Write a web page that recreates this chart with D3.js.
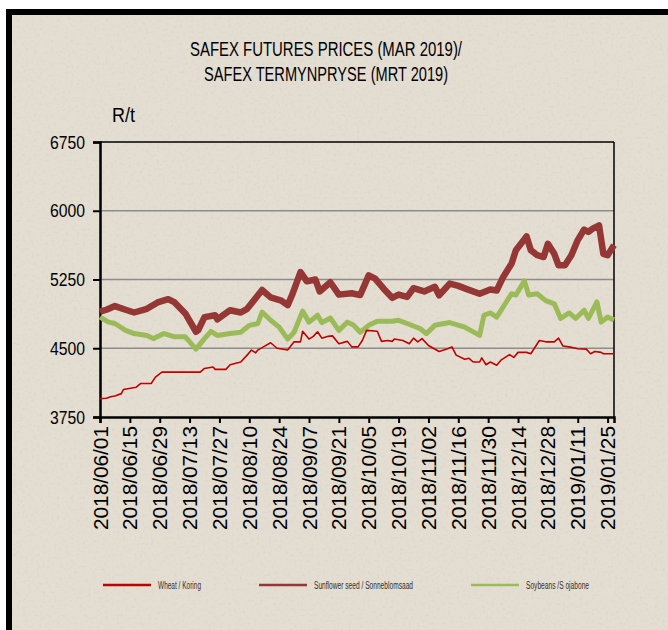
<!DOCTYPE html>
<html>
<head>
<meta charset="utf-8">
<script src="https://cdn.jsdelivr.net/npm/d3@7"></script>
<style>
  html, body { margin: 0; padding: 0; background: #ffffff; }
  svg { display: block; }
</style>
</head>
<body>
<svg id="chart" width="668" height="630"></svg>
<script>
// ---------------- DATA ----------------
const titleLines = ["SAFEX FUTURES PRICES (MAR 2019)/", "SAFEX TERMYNPRYSE (MRT 2019)"];
const yUnit = "R/t";
const yTicks = [3750, 4500, 5250, 6000, 6750];
const xTickLabels = ["2018/06/01","2018/06/15","2018/06/29","2018/07/13","2018/07/27","2018/08/10",
  "2018/08/24","2018/09/07","2018/09/21","2018/10/05","2018/10/19","2018/11/02","2018/11/16",
  "2018/11/30","2018/12/14","2018/12/28","2019/01/11","2019/01/25"];
const xDomain = ["2018-06-01", "2019-01-28"];
const seriesNames = ["Wheat / Koring", "Sunflower  seed / Sonneblomsaad", "Soybeans /S ojabone"];

const wheatDates = ["2018-06-01","2018-06-04","2018-06-06","2018-06-08","2018-06-11","2018-06-12","2018-06-18",
  "2018-06-20","2018-06-25","2018-06-27","2018-06-30","2018-07-06","2018-07-18","2018-07-20","2018-07-24",
  "2018-07-25","2018-07-30","2018-08-01","2018-08-06","2018-08-09","2018-08-11","2018-08-13","2018-08-14",
  "2018-08-17","2018-08-20","2018-08-23","2018-08-28","2018-08-31","2018-09-03","2018-09-04","2018-09-07",
  "2018-09-09","2018-09-11","2018-09-13","2018-09-16","2018-09-18","2018-09-21","2018-09-25","2018-09-27",
  "2018-09-30","2018-10-02","2018-10-04","2018-10-09","2018-10-11","2018-10-14","2018-10-16","2018-10-17",
  "2018-10-21","2018-10-24","2018-10-26","2018-10-28","2018-10-30","2018-11-02","2018-11-07","2018-11-11",
  "2018-11-13","2018-11-15","2018-11-19","2018-11-21","2018-11-23","2018-11-26","2018-11-27","2018-11-29",
  "2018-12-01","2018-12-04","2018-12-06","2018-12-10","2018-12-12","2018-12-14","2018-12-18","2018-12-20",
  "2018-12-24","2018-12-27","2018-12-31","2019-01-02","2019-01-04","2019-01-07","2019-01-09","2019-01-11",
  "2019-01-15","2019-01-17","2019-01-19","2019-01-22","2019-01-23","2019-01-28"];
const wheatPrices = [3950,3955,3970,3980,4005,4050,4075,
  4115,4115,4185,4240,4240,4240,4280,4295,
  4270,4270,4320,4350,4425,4480,4450,4480,
  4520,4560,4500,4480,4570,4570,4685,4600,
  4630,4680,4610,4630,4635,4550,4575,4515,
  4515,4585,4695,4685,4575,4585,4575,4600,
  4585,4550,4610,4570,4605,4530,4465,4495,
  4515,4425,4380,4390,4350,4350,4395,4320,
  4350,4315,4370,4430,4400,4455,4455,4440,
  4585,4570,4570,4610,4525,4515,4505,4495,
  4490,4440,4465,4455,4440,4440];

const sunflowerDates = ["2018-06-01","2018-06-04","2018-06-08","2018-06-13","2018-06-17","2018-06-23","2018-06-28",
  "2018-07-03","2018-07-06","2018-07-11","2018-07-16","2018-07-17","2018-07-20","2018-07-25","2018-07-26",
  "2018-08-01","2018-08-06","2018-08-09","2018-08-16","2018-08-20","2018-08-25","2018-08-28","2018-08-30",
  "2018-09-03","2018-09-06","2018-09-10","2018-09-12","2018-09-17","2018-09-21","2018-09-27","2018-10-01",
  "2018-10-05","2018-10-08","2018-10-12","2018-10-16","2018-10-19","2018-10-23","2018-10-26","2018-10-31",
  "2018-11-05","2018-11-07","2018-11-12","2018-11-16","2018-11-20","2018-11-26","2018-12-01","2018-12-04",
  "2018-12-07","2018-12-11","2018-12-13","2018-12-16","2018-12-18","2018-12-20","2018-12-23","2018-12-26",
  "2018-12-28","2018-12-31","2019-01-02","2019-01-05","2019-01-08","2019-01-11","2019-01-14","2019-01-16",
  "2019-01-18","2019-01-21","2019-01-23","2019-01-25","2019-01-28"];
const sunflowerPrices = [4900,4920,4960,4920,4890,4930,5000,
  5035,5000,4880,4680,4695,4840,4860,4815,
  4915,4890,4930,5135,5055,5020,4970,5078,
  5330,5230,5250,5120,5220,5085,5100,5080,
  5295,5260,5150,5050,5085,5060,5155,5120,
  5170,5078,5205,5180,5145,5095,5140,5130,
  5275,5425,5570,5660,5720,5570,5515,5495,
  5640,5530,5405,5405,5514,5680,5795,5770,
  5805,5840,5530,5515,5625];

const soybeanDates = ["2018-06-01","2018-06-05","2018-06-08","2018-06-13","2018-06-17","2018-06-23","2018-06-26",
  "2018-07-01","2018-07-06","2018-07-11","2018-07-16","2018-07-20","2018-07-23","2018-07-26","2018-08-01",
  "2018-08-06","2018-08-10","2018-08-14","2018-08-16","2018-08-20","2018-08-24","2018-08-28","2018-08-31",
  "2018-09-04","2018-09-07","2018-09-11","2018-09-13","2018-09-17","2018-09-21","2018-09-25","2018-09-28",
  "2018-10-01","2018-10-05","2018-10-09","2018-10-16","2018-10-19","2018-10-23","2018-10-29","2018-11-01",
  "2018-11-05","2018-11-12","2018-11-19","2018-11-26","2018-11-28","2018-12-01","2018-12-04","2018-12-07",
  "2018-12-11","2018-12-13","2018-12-17","2018-12-19","2018-12-23","2018-12-27","2018-12-31","2019-01-03",
  "2019-01-07","2019-01-10","2019-01-14","2019-01-16","2019-01-20","2019-01-22","2019-01-25","2019-01-28"];
const soybeanPrices = [4840,4785,4770,4695,4660,4640,4605,
  4660,4625,4625,4490,4605,4685,4640,4660,
  4675,4750,4770,4895,4805,4730,4600,4675,
  4905,4785,4860,4780,4830,4695,4785,4750,
  4675,4750,4795,4795,4805,4770,4715,4660,
  4750,4780,4730,4640,4860,4885,4840,4950,
  5095,5080,5235,5080,5095,5020,4985,4825,
  4885,4825,4915,4825,5005,4785,4840,4810];

// ---------------- LAYOUT / STYLE ----------------
const W = 668, H = 630;
const plot = { left: 100, right: 614, top: 142, bottom: 417 };
const colors = { wheat: "#c00000", sunflower: "#953735", soybean: "#9bbb59" };
const sans = "'Liberation Sans', Arial, sans-serif";

const parse = d3.timeParse("%Y-%m-%d");
const parseTick = d3.timeParse("%Y/%m/%d");

const svg = d3.select("#chart");

// background & frame
const defs = svg.append("defs");
const filt = defs.append("filter").attr("id", "noise").attr("x", 0).attr("y", 0).attr("width", "100%").attr("height", "100%");
filt.append("feTurbulence").attr("type", "fractalNoise").attr("baseFrequency", "0.35").attr("numOctaves", 2).attr("seed", 7);
filt.append("feColorMatrix").attr("type", "matrix")
  .attr("values", "0 0 0 0 0.55  0 0 0 0 0.52  0 0 0 0 0.47  0 0 0 1.8 -0.95");

svg.append("rect").attr("x", 6).attr("y", 9).attr("width", W - 6).attr("height", H - 9).attr("fill", "#e4ddd1");
svg.append("rect").attr("x", 6).attr("y", 9).attr("width", W - 6).attr("height", H - 9)
  .attr("filter", "url(#noise)").attr("opacity", 0.35);
svg.append("rect").attr("x", 6).attr("y", 9).attr("width", W - 6).attr("height", 6).attr("fill", "#000");
svg.append("rect").attr("x", 6).attr("y", 9).attr("width", 6).attr("height", H - 9).attr("fill", "#000");

// scales
const x = d3.scaleTime().domain(xDomain.map(parse)).range([plot.left, plot.right]);
const y = d3.scaleLinear().domain([yTicks[0], yTicks[yTicks.length - 1]]).range([plot.bottom, plot.top]);

// gridlines
svg.append("g").selectAll("line").data(yTicks.slice(1, -1)).join("line")
  .attr("x1", plot.left).attr("x2", plot.right)
  .attr("y1", d => y(d)).attr("y2", d => y(d))
  .attr("stroke", "#8c8c8c").attr("stroke-width", 1.5);

// plot border (top/right)
svg.append("line").attr("x1", plot.left).attr("x2", plot.right).attr("y1", plot.top).attr("y2", plot.top)
  .attr("stroke", "#000").attr("stroke-width", 1.5);
svg.append("line").attr("x1", plot.right).attr("x2", plot.right).attr("y1", plot.top).attr("y2", plot.bottom)
  .attr("stroke", "#000").attr("stroke-width", 1.5);

// y axis
const yAxis = svg.append("g").attr("transform", `translate(${plot.left},0)`)
  .call(d3.axisLeft(y).tickValues(yTicks).tickSize(7).tickPadding(8).tickFormat(d3.format("d")));
yAxis.select(".domain").attr("stroke", "#000").attr("stroke-width", 2.5);
yAxis.selectAll(".tick line").attr("stroke", "#000").attr("stroke-width", 2);
yAxis.selectAll(".tick text").attr("font-family", sans).attr("font-size", 19).attr("fill", "#000")
  .attr("textLength", 35).attr("lengthAdjust", "spacingAndGlyphs");

// x axis
const xAxis = svg.append("g").attr("transform", `translate(0,${plot.bottom})`)
  .call(d3.axisBottom(x).tickValues(xTickLabels.map(parseTick)).tickSize(6).tickFormat(d3.timeFormat("%Y/%m/%d")));
xAxis.select(".domain").attr("stroke", "#000").attr("stroke-width", 2.5);
xAxis.selectAll(".tick line").attr("stroke", "#000").attr("stroke-width", 2);
xAxis.selectAll(".tick text")
  .attr("font-family", sans).attr("font-size", 19.5).attr("fill", "#000")
  .attr("text-anchor", "end").attr("transform", "rotate(-90)")
  .attr("x", -9).attr("y", 0).attr("dy", "0.36em")
  .attr("textLength", 104).attr("lengthAdjust", "spacingAndGlyphs");

// lines
const line = d3.line().x(d => x(d[0])).y(d => y(d[1]));
function pairs(dates, vals) { return dates.map((d, i) => [parse(d), vals[i]]); }
const series = [
  { key: "sunflower", data: pairs(sunflowerDates, sunflowerPrices), w: 6.5 },
  { key: "soybean", data: pairs(soybeanDates, soybeanPrices), w: 5 },
  { key: "wheat", data: pairs(wheatDates, wheatPrices), w: 1.6 }
];
svg.append("g").selectAll("path").data(series).join("path")
  .attr("d", s => line(s.data)).attr("fill", "none")
  .attr("stroke", s => colors[s.key]).attr("stroke-width", s => s.w)
  .attr("stroke-linejoin", "round").attr("stroke-linecap", "butt");

// title
const titleWidths = [272, 244];
svg.append("g").selectAll("text").data(titleLines).join("text")
  .attr("x", 326).attr("y", (d, i) => 56 + i * 25)
  .attr("text-anchor", "middle").attr("font-family", sans).attr("font-size", 21)
  .attr("textLength", (d, i) => titleWidths[i]).attr("lengthAdjust", "spacingAndGlyphs")
  .attr("fill", "#000").text(d => d);

svg.append("text").attr("x", 112).attr("y", 122).attr("font-family", sans).attr("font-size", 21)
  .attr("textLength", 23).attr("lengthAdjust", "spacingAndGlyphs")
  .attr("fill", "#000").text(yUnit);

// legend
const legendItems = [
  { key: "wheat", name: seriesNames[0], x: 103, tw: 43 },
  { key: "sunflower", name: seriesNames[1], x: 259, tw: 99 },
  { key: "soybean", name: seriesNames[2], x: 471, tw: 63 }
];
const lg = svg.append("g").selectAll("g").data(legendItems).join("g")
  .attr("transform", d => `translate(${d.x},585)`);
lg.append("line").attr("x1", 0).attr("x2", 48).attr("y1", 0).attr("y2", 0)
  .attr("stroke", d => colors[d.key]).attr("stroke-width", 2.5);
lg.append("text").attr("x", 55).attr("y", 3.5).attr("font-family", sans).attr("font-size", 10)
  .attr("textLength", d => d.tw).attr("lengthAdjust", "spacingAndGlyphs")
  .attr("fill", "#333").text(d => d.name);
</script>
</body>
</html>
